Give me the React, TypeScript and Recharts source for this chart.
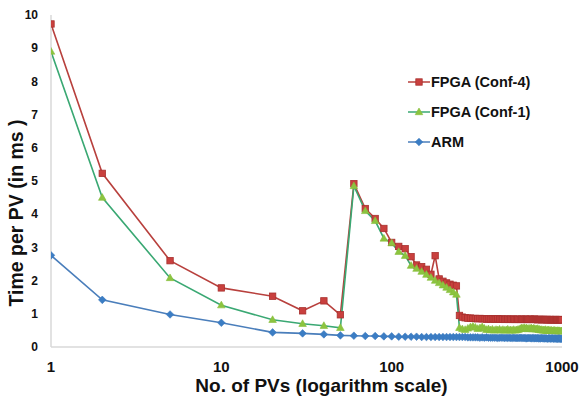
import React from 'react';
import { LineChart, Line, XAxis, YAxis, Legend, Label } from 'recharts';

const pvs = [
  1, 2, 5, 10, 20, 30, 40,
  50, 60, 70, 80, 90, 100, 110, 120, 130, 140,
  150, 160, 170, 180, 190, 200, 210, 220, 230, 240,
  250, 260, 270, 280, 290, 300, 310, 320, 330, 340,
  350, 360, 370, 380, 390, 400, 410, 420, 430, 440,
  450, 460, 470, 480, 490, 500, 510, 520, 530, 540,
  550, 560, 570, 580, 590, 600, 610, 620, 630, 640,
  650, 660, 670, 680, 690, 700, 710, 720, 730, 740,
  750, 760, 770, 780, 790, 800, 810, 820, 830, 840,
  850, 860, 870, 880, 890, 900, 910, 920, 930, 940,
  950, 960, 970, 980, 990, 1000,
];

const conf4 = [
  9.73, 5.23, 2.6, 1.78, 1.53, 1.09, 1.39,
  0.97, 4.92, 4.17, 3.87, 3.57, 3.15, 3.03, 2.96, 2.72, 2.47,
  2.42, 2.34, 2.19, 2.75, 2.05, 1.98, 1.93, 1.89, 1.86, 1.84,
  0.95, 0.9, 0.88, 0.87, 0.87, 0.86, 0.86, 0.85, 0.86, 0.85,
  0.85, 0.84, 0.85, 0.84, 0.85, 0.84, 0.84, 0.85, 0.84, 0.84,
  0.84, 0.83, 0.84, 0.84, 0.83, 0.84, 0.83, 0.84, 0.83, 0.83,
  0.84, 0.83, 0.83, 0.84, 0.83, 0.83, 0.84, 0.83, 0.83, 0.83,
  0.84, 0.83, 0.83, 0.83, 0.84, 0.83, 0.83, 0.82, 0.83, 0.83,
  0.83, 0.82, 0.83, 0.83, 0.82, 0.83, 0.82, 0.83, 0.82, 0.82,
  0.83, 0.82, 0.82, 0.83, 0.82, 0.82, 0.82, 0.83, 0.82, 0.82,
  0.82, 0.82, 0.83, 0.82, 0.82, 0.82,
];

const conf1 = [
  8.9, 4.5, 2.08, 1.26, 0.82, 0.7, 0.64,
  0.58, 4.85, 4.1, 3.8, 3.27, 3.13, 2.87, 2.75, 2.45, 2.36,
  2.27, 2.18, 2.09, 2.0, 1.93, 1.86, 1.79, 1.72, 1.65, 1.58,
  0.58, 0.54, 0.52, 0.56, 0.6, 0.62, 0.59, 0.55, 0.57, 0.6,
  0.56, 0.52, 0.54, 0.51, 0.53, 0.5, 0.52, 0.51, 0.53, 0.5,
  0.52, 0.5, 0.51, 0.53, 0.5, 0.51, 0.5, 0.52, 0.5, 0.51,
  0.52, 0.53, 0.55, 0.57, 0.56, 0.58, 0.55, 0.57, 0.54, 0.56,
  0.55, 0.57, 0.54, 0.56, 0.55, 0.53, 0.54, 0.55, 0.52, 0.53,
  0.51, 0.52, 0.5, 0.51, 0.5, 0.52, 0.49, 0.5, 0.51, 0.49,
  0.5, 0.49, 0.5, 0.48, 0.49, 0.5, 0.48, 0.49, 0.48, 0.49,
  0.48, 0.49, 0.48, 0.47, 0.48, 0.48,
];

const arm = [
  2.76, 1.42, 0.98, 0.73, 0.44, 0.41, 0.38,
  0.35, 0.34, 0.33, 0.33, 0.32, 0.32, 0.31, 0.31, 0.31, 0.31,
  0.3, 0.3, 0.3, 0.3, 0.3, 0.3, 0.3, 0.3, 0.3, 0.3,
  0.3, 0.3, 0.3, 0.29, 0.29, 0.29, 0.29, 0.29, 0.28, 0.29,
  0.28, 0.29, 0.28, 0.28, 0.28, 0.28, 0.28, 0.27, 0.28, 0.28,
  0.28, 0.27, 0.28, 0.27, 0.28, 0.27, 0.27, 0.28, 0.27, 0.27,
  0.27, 0.27, 0.28, 0.27, 0.27, 0.27, 0.27, 0.26, 0.27, 0.27,
  0.27, 0.26, 0.27, 0.27, 0.26, 0.27, 0.26, 0.27, 0.26, 0.26,
  0.26, 0.27, 0.26, 0.26, 0.26, 0.26, 0.26, 0.25, 0.26, 0.26,
  0.26, 0.25, 0.26, 0.26, 0.25, 0.26, 0.25, 0.26, 0.25, 0.25,
  0.25, 0.26, 0.25, 0.25, 0.25, 0.25,
];

const xTicks = [1, 10, 100, 1000];
const yTicks = [0, 1, 2, 3, 4, 5, 6, 7, 8, 9, 10];
const seriesNames = ['FPGA (Conf-4)', 'FPGA (Conf-1)', 'ARM'];
const xTitle = 'No. of PVs (logarithm scale)';
const yTitle = 'Time per PV (in ms )';

const data = pvs.map((pv, i) => ({ pv, conf4: conf4[i], conf1: conf1[i], arm: arm[i] }));

const FONT = '"Liberation Sans", Arial, Helvetica, sans-serif';
const AXIS_GRAY = '#D9D9D9';
const TEXT = '#111111';

const RED_LINE = '#B8403D';
const RED_FILL = '#C9403E';
const GREEN_LINE = '#3AA873';
const GREEN_FILL = '#8CC43F';
const BLUE_LINE = '#4A7EBB';
const BLUE_FILL = '#3B7DC4';

function SquareDot(props: any) {
  const { cx, cy, index } = props;
  if (cx == null || cy == null) return null;
  return (
    <rect key={`sq-${index}`} x={cx - 3.2} y={cy - 3.2} width={6.4} height={6.4}
      fill={RED_FILL} stroke="#A8302E" strokeWidth={0.8} />
  );
}

function TriDot(props: any) {
  const { cx, cy, index } = props;
  if (cx == null || cy == null) return null;
  return (
    <polygon key={`tr-${index}`}
      points={`${cx},${cy - 4} ${cx + 3.8},${cy + 2.7} ${cx - 3.8},${cy + 2.7}`}
      fill={GREEN_FILL} stroke="#86BE3A" strokeWidth={0.6} />
  );
}

function DiamondDot(props: any) {
  const { cx, cy, index } = props;
  if (cx == null || cy == null) return null;
  return (
    <polygon key={`di-${index}`}
      points={`${cx},${cy - 3.8} ${cx + 3.8},${cy} ${cx},${cy + 3.8} ${cx - 3.8},${cy}`}
      fill={BLUE_FILL} stroke="#3A78BE" strokeWidth={0.6} />
  );
}

const legendItems = [
  { name: seriesNames[0], stroke: RED_LINE, Marker: SquareDot },
  { name: seriesNames[1], stroke: GREEN_LINE, Marker: TriDot },
  { name: seriesNames[2], stroke: BLUE_LINE, Marker: DiamondDot },
];

function LegendContent() {
  return (
    <div style={{ display: 'flex', flexDirection: 'column', fontFamily: FONT }}>
      {legendItems.map((it) => (
        <div key={it.name} style={{ height: 30, display: 'flex', alignItems: 'center' }}>
          <svg width={22} height={12} style={{ display: 'block' }}>
            <line x1={0} y1={6} x2={22} y2={6} stroke={it.stroke} strokeWidth={1.5} />
            {it.Marker({ cx: 11, cy: 6, index: 0 })}
          </svg>
          <span style={{ fontSize: 14.5, fontWeight: 700, color: TEXT, marginLeft: 1, whiteSpace: 'nowrap' }}>
            {it.name}
          </span>
        </div>
      ))}
    </div>
  );
}

function XTitle(props: any) {
  const vb = props.viewBox || { x: 51, y: 347, width: 511, height: 40 };
  return (
    <text x={vb.x + vb.width / 2 + 15} y={vb.y + 38} textAnchor="middle" dominantBaseline="central"
      fontFamily={FONT} fontWeight={700} fontSize={19} fill={TEXT}>
      {xTitle}
    </text>
  );
}

function YTitle(props: any) {
  const vb = props.viewBox || { x: 11, y: 15, width: 40, height: 332 };
  const cx = vb.x + 5;
  const cy = vb.y + vb.height / 2 + 32;
  return (
    <text x={cx} y={cy} transform={`rotate(-90 ${cx} ${cy})`} textAnchor="middle" dominantBaseline="central"
      fontFamily={FONT} fontWeight={700} fontSize={19.5} fill={TEXT}>
      {yTitle}
    </text>
  );
}

export default function App() {
  return (
    <div style={{ position: 'absolute', left: 0, top: 0, background: '#fff' }}>
      <LineChart width={580} height={401} data={data}
        margin={{ top: 15, right: 18, left: 11, bottom: 14 }}
        style={{ fontFamily: FONT }}>
        <XAxis dataKey="pv" type="number" scale="log" domain={[1, 1000]} ticks={xTicks}
          allowDataOverflow height={40}
          axisLine={{ stroke: AXIS_GRAY, strokeWidth: 1.5 }} tickLine={false} tickSize={0} tickMargin={14}
          tick={{ fontSize: 15, fontWeight: 700, fill: TEXT, fontFamily: FONT }}>
          <Label content={XTitle} />
        </XAxis>
        <YAxis type="number" domain={[0, 10]} ticks={yTicks} width={40} interval={0}
          axisLine={{ stroke: AXIS_GRAY, strokeWidth: 1.5 }} tickLine={false} tickSize={0} tickMargin={13}
          tick={{ fontSize: 12, fontWeight: 700, fill: TEXT, fontFamily: FONT }}>
          <Label content={YTitle} />
        </YAxis>
        <Legend content={LegendContent} layout="vertical" align="center" verticalAlign="middle"
          wrapperStyle={{ position: 'absolute', left: 408, top: 67, width: 170, margin: 0 }} />
        <Line type="linear" dataKey="conf4" name={seriesNames[0]} stroke={RED_LINE} strokeWidth={1.6}
          dot={SquareDot} activeDot={false} isAnimationActive={false} />
        <Line type="linear" dataKey="conf1" name={seriesNames[1]} stroke={GREEN_LINE} strokeWidth={1.6}
          dot={TriDot} activeDot={false} isAnimationActive={false} />
        <Line type="linear" dataKey="arm" name={seriesNames[2]} stroke={BLUE_LINE} strokeWidth={1.6}
          dot={DiamondDot} activeDot={false} isAnimationActive={false} />
      </LineChart>
    </div>
  );
}
